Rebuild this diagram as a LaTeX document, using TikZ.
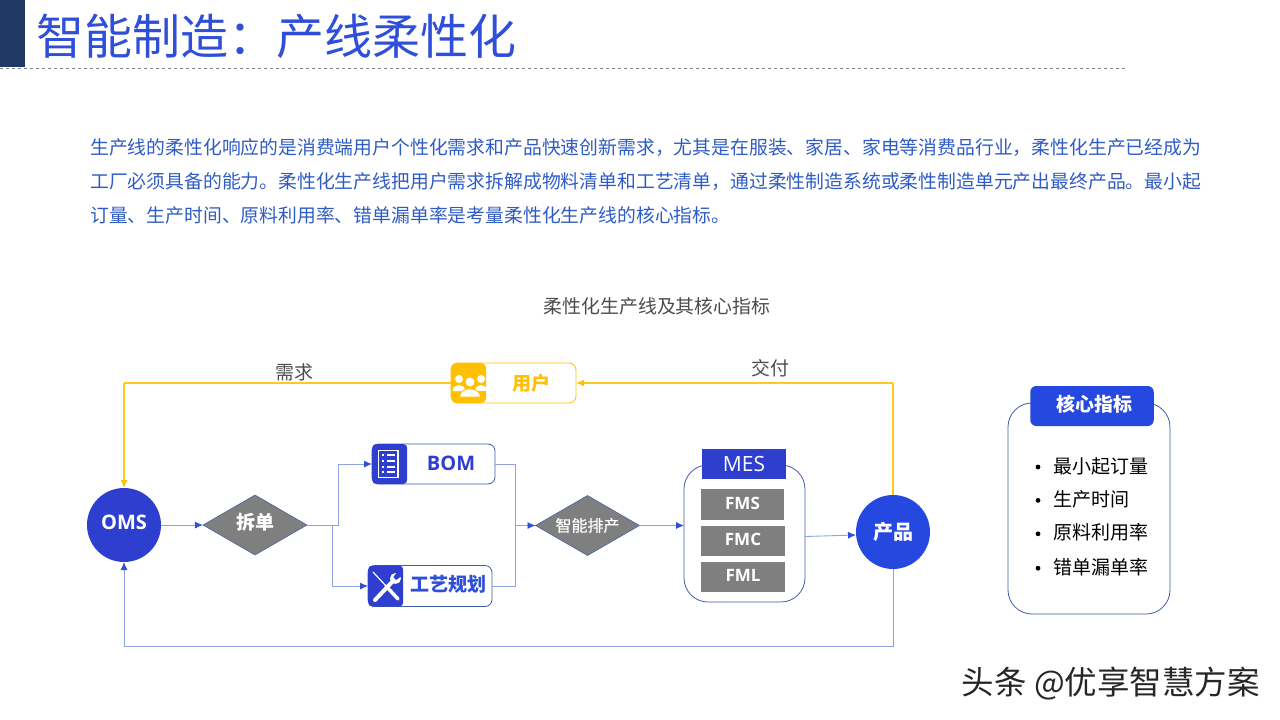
\documentclass[tikz,border=0pt]{standalone}
\usepackage{fontspec}
\usepackage{xcolor}
\usepackage{tikz}
\usetikzlibrary{arrows.meta, positioning, shapes.geometric, calc}
\setmainfont{Noto Sans CJK SC}
\newfontfamily\latinfont{Open Sans}
\definecolor{navy}{HTML}{1F3864}
\definecolor{titleblue}{HTML}{2F4FD8}
\definecolor{brightblue}{HTML}{2448E0}
\definecolor{textblue}{HTML}{2F5CC4}
\definecolor{royal}{HTML}{2E3FD0}
\definecolor{amber}{HTML}{FFC000}
\definecolor{amberline}{HTML}{FFC81E}
\definecolor{flowline}{HTML}{8FA3DE}
\definecolor{edgeblue}{HTML}{3F5CA8}
\definecolor{slate}{HTML}{7F7F7F}

\begin{document}
\begin{tikzpicture}[x=1pt, y=-1pt,
    round/.style={circle, fill=royal, minimum size=74pt, inner sep=0pt, outer sep=0pt,
                  text=white, font=\fontsize{20}{22}\selectfont\bfseries},
    choice/.style={diamond, draw=edgeblue, line width=0.5pt, fill=slate, minimum width=104pt, minimum height=60pt,
                   inner sep=0pt, outer sep=0pt, aspect=1.7, text=white},
    card/.style={rectangle, rounded corners=7pt, draw=edgeblue, line width=0.8pt, fill=white,
                 minimum width=124pt, minimum height=41pt, inner sep=0pt, outer sep=0pt},
    panel/.style={rectangle, rounded corners=24pt, draw=edgeblue, line width=0.8pt, fill=white,
                  inner sep=0pt, outer sep=0pt},
    cell/.style={rectangle, fill=slate, minimum width=84pt, minimum height=30pt, inner sep=0pt, outer sep=0pt,
                 text height=12pt, text depth=3pt, text=white, font=\latinfont\fontsize{17}{19}\selectfont\bfseries},
    item/.style={anchor=west, inner sep=0pt, text height=16pt, text depth=4pt, text=black, font=\fontsize{19}{21}\selectfont},
    para/.style={anchor=west, inner sep=0pt, text height=16pt, text depth=4pt, text=textblue, font=\fontsize{18.83}{21}\selectfont},
    wire/.style={draw=flowline, line width=0.9pt},
    flow/.style={wire, -{Latex[color=titleblue, length=8pt, width=7pt]}},
    yellowwire/.style={draw=amberline, line width=1.1pt},
    yellowflow/.style={yellowwire, -{Latex[color=amber, length=8pt, width=7pt]}}
]
\useasboundingbox (0,0) rectangle (1280,720);
% header
\fill[navy] (0,0) rectangle (25,67);
\draw[gray, dashed, line width=0.6pt] (0,68.5) -- (1126,68.5);
\node[anchor=west, inner sep=0pt, text=titleblue, font=\fontsize{48}{52}\selectfont] (title) at (36,36) {智能制造：产线柔性化};
\node[para] (line1) at (90,148) {生产线的柔性化响应的是消费端用户个性化需求和产品快速创新需求，尤其是在服装、家居、家电等消费品行业，柔性化生产已经成为};
\node[para, below=14pt of line1.south west, anchor=north west] (line2) {工厂必须具备的能力。柔性化生产线把用户需求拆解成物料清单和工艺清单，通过柔性制造系统或柔性制造单元产出最终产品。最小起};
\node[para, below=14pt of line2.south west, anchor=north west] (line3) {订量、生产时间、原料利用率、错单漏单率是考量柔性化生产线的核心指标。};
\node[inner sep=0pt, text=black!70, font=\fontsize{18.9}{21}\selectfont] (caption) at (657,306) {柔性化生产线及其核心指标};

% flow
\node[round, text height=14pt, text depth=6pt] (oms) at (124,525) {\latinfont OMS};
\node[choice, right=42pt of oms, font=\fontsize{19}{21}\selectfont\bfseries, text height=14pt, text depth=5pt] (split) {拆单};
\node[card, minimum width=123pt, minimum height=40pt] (bom) at (433.5,464) {};
\node[card] (craft) at (430,586) {};
\node[choice, font=\fontsize{16}{18}\selectfont\addfontfeature{FakeBold=0.4}] (sched) at (587.5,525.5) {智能排产};
\node[panel, minimum width=121pt, minimum height=137pt] (cellbox) at (744.5,533.5) {};
\node[rectangle, fill=royal, minimum width=84pt, minimum height=30pt, inner sep=0pt, outer sep=0pt, text=white,
      font=\latinfont\fontsize{21}{23}\selectfont] (mes) at (744,464) {MES};
\node[cell, minimum width=83pt, minimum height=31pt] (fms) at (742.5,504.5) {FMS};
\node[cell, below=6pt of fms.south west, anchor=north west] (fmc) {FMC};
\node[cell, below=6pt of fmc] (fml) {FML};
\node[round, fill=brightblue] (prod) at (893,532) {产品};

% user
\node[card, draw=amber, minimum width=125pt, minimum height=40pt] (user) at (513.5,383) {};
\node[rectangle, rounded corners=5pt, fill=amber, minimum width=35pt, minimum height=40pt, inner sep=0pt,
      right=0pt of user.west, anchor=west] (usericon) {};
\node[inner sep=0pt, text=amber, font=\fontsize{19}{21}\selectfont\bfseries] (userlabel) at (531,383) {用户};
\fill[white] (459,379) circle (4) (481,379) circle (4) (470,382) circle (4.5);
\fill[white] (452.5,391) .. controls (453,383) and (465,383) .. (465,391) -- cycle;
\fill[white] (475,391) .. controls (475,383) and (487,383) .. (487,391) -- cycle;
\fill[white, draw=amber, line width=0.8pt] (459.5,397) .. controls (460,386) and (480,386) .. (480.5,397) -- cycle;

% icons
\node[rectangle, rounded corners=4pt, fill=royal, minimum width=35pt, minimum height=40pt, inner sep=0pt,
      right=0pt of bom.west, anchor=west] (bomicon) {};
\node[inner sep=0pt, text=royal, font=\latinfont\fontsize{20}{22}\selectfont\bfseries] (bomlabel) at (451,463) {BOM};
\draw[white, line width=1.2pt] (378.5,450.5) rectangle (398,477.5);
\foreach \y in {455,461,467,472}{
  \draw[white, line width=1.2pt] (381.5,\y) -- (384,\y) (386.5,\y) -- (395,\y);
}
\node[rectangle, rounded corners=4pt, fill=royal, minimum width=35pt, minimum height=41pt, inner sep=0pt,
      right=0pt of craft.west, anchor=west] (crafticon) {};
\node[inner sep=0pt, text=titleblue, font=\fontsize{19}{21}\selectfont\bfseries] (craftlabel) at (448,584.5) {工艺规划};
\draw[white, line width=1.2pt] (373,572) -- (386,586);
\draw[white, line width=3.5pt, line cap=round] (386,586) -- (398,599);
\draw[white, line width=4pt, line cap=round] (375,600) -- (393,581);
\fill[white] (395.5,578.5) circle (5.5);
\fill[royal] (397,572) -- (393.5,577) -- (396,580) -- (401,576.5) -- (401,570) -- cycle;

% connectors
\draw[flow] (oms) -- (split);
\draw[flow] (split.east) -| ($(split.east)!0.48!(bom.west |- split.east)$) |- (bom.west);
\draw[flow] (split.east) -| ($(split.east)!0.42!(craft.west |- split.east)$) |- (craft.west);
\coordinate (join) at (515,525.5);
\draw[wire] (bom.east) -| (join);
\draw[wire] (craft.east) -| (join);
\draw[flow] (join) -- (sched.west);
\draw[flow] (sched.east) -- (cellbox.west |- sched.east);
\draw[flow] ([yshift=-3pt]cellbox.east) -- ([yshift=-3pt]prod.west);
\coordinate (loop) at (124,646);
\draw[wire] (prod.south) |- (loop);
\draw[flow] (loop) -- (oms.south);
\node[above=2pt of user.west, xshift=-157pt, inner sep=0pt, text=black!70, font=\fontsize{18.9}{21}\selectfont] (need) {需求};
\node[inner sep=0pt, text=black!70, font=\fontsize{18.9}{21}\selectfont] (deliver) at (770.5,368) {交付};

% right panel
\node[panel, minimum width=162pt, minimum height=211pt] (metrics) at (1089,508.5) {};
\node[rectangle, rounded corners=6pt, fill=brightblue, minimum width=123.5pt, minimum height=40pt, inner sep=0pt, outer sep=0pt,
      text height=15pt, text depth=4pt, text=white, font=\fontsize{19}{21}\selectfont\bfseries] (head) at (1092,406) {\hspace*{4pt}核心指标};
\node[item] (m1) at (1053,467) {最小起订量};
\node[item, below=13pt of m1.south west, anchor=north west] (m2) {生产时间};
\node[item, below=13pt of m2.south west, anchor=north west] (m3) {原料利用率};
\node[item, below=14pt of m3.south west, anchor=north west] (m4) {错单漏单率};
\foreach \n in {m1,m2,m3,m4}{
  \fill[black] ($(\n.west)+(-15,0)$) circle (2.4);
}

\node[anchor=east, inner sep=0pt, text=black!85, font=\fontsize{32.5}{34}\selectfont] (mark) at (1260,684) {头条 @优享智慧方案};

% yellow loop, on top
\coordinate (turnright) at (prod.north |- user.east);
\coordinate (turnleft) at (oms.north |- user.west);
\draw[yellowwire] (prod.north) -- (turnright);
\draw[yellowflow] (turnright) -- (user.east);
\draw[yellowwire] (user.west) -- (turnleft);
\draw[yellowflow] (turnleft) -- (oms.north);
\end{tikzpicture}
\end{document}
